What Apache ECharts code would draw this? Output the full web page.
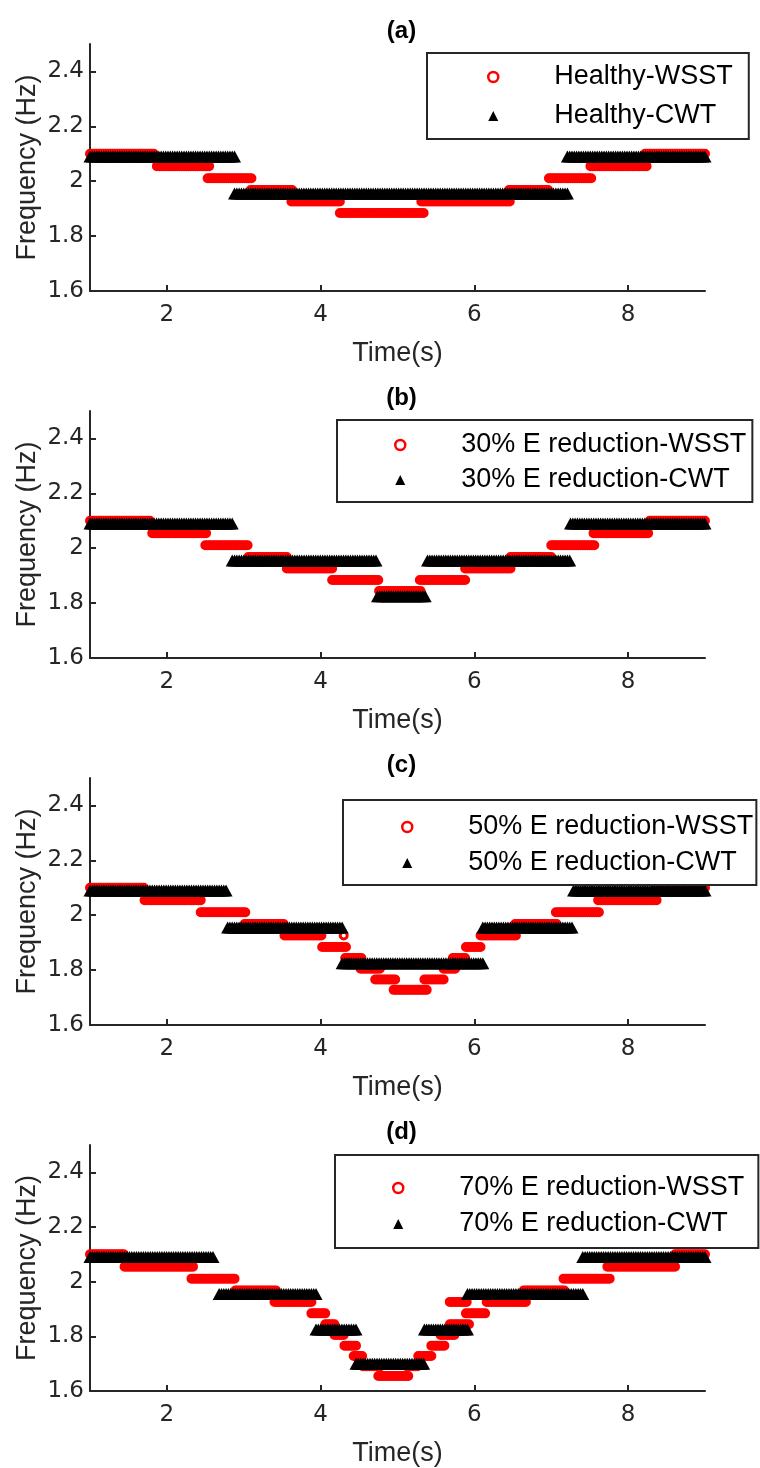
<!DOCTYPE html>
<html><head><meta charset="utf-8">
<script src="https://cdn.jsdelivr.net/npm/echarts@6/dist/echarts.min.js"></script>
<style>html,body{margin:0;padding:0;background:#fff}#c{width:760px;height:1468px}</style>
</head><body><div id="c"></div>
<script>
// ---------------- DATA ----------------
const panelTitles = ['(a)', '(b)', '(c)', '(d)'];
const wsstNames = ['Healthy-WSST', '30% E reduction-WSST', '50% E reduction-WSST', '70% E reduction-WSST'];
const cwtNames  = ['Healthy-CWT', '30% E reduction-CWT', '50% E reduction-CWT', '70% E reduction-CWT'];
const xTicks = [2, 4, 6, 8];
const yTicks = [1.6, 1.8, 2, 2.2, 2.4];
const sampleStep = 0.03; // time spacing of the plotted samples (s)

// runs of constant frequency: [tStart, tEnd, frequency]
const wsstA = [[1.00,1.83,2.100],[1.87,2.55,2.055],[2.53,3.10,2.011],[3.09,3.63,1.968],[3.62,4.25,1.926],[4.25,5.34,1.884],
  [5.31,6.46,1.926],[6.45,6.96,1.968],[6.97,7.52,2.011],[7.51,8.24,2.055],[8.22,9.00,2.100]];
const cwtA  = [[1.00,2.88,2.090],[2.88,7.21,1.955],[7.21,9.00,2.090]];

const wsstB = [[1.00,1.78,2.100],[1.81,2.51,2.055],[2.50,3.05,2.011],[3.06,3.56,1.968],[3.56,4.15,1.926],[4.15,4.75,1.884],
  [4.76,5.30,1.844],[5.29,5.88,1.884],[5.88,6.47,1.926],[6.47,7.00,1.968],[7.00,7.56,2.011],[7.55,8.26,2.055],[8.28,9.00,2.100]];
const cwtB  = [[1.00,2.85,2.090],[2.85,4.72,1.955],[4.74,5.36,1.825],[5.39,7.24,1.955],[7.25,9.00,2.090]];

const wsstC = [[1.00,1.70,2.100],[1.71,2.44,2.055],[2.44,3.02,2.011],[3.01,3.52,1.968],[3.53,4.01,1.926],[4.30,4.30,1.926],
  [4.02,4.33,1.884],[4.32,4.53,1.844],[4.52,4.77,1.805],[4.71,4.97,1.766],[4.95,5.38,1.728],[5.35,5.60,1.766],
  [5.60,5.75,1.805],[5.72,5.88,1.844],[5.89,6.08,1.884],[6.08,6.54,1.926],[6.53,7.07,1.968],[7.06,7.62,2.011],
  [7.61,8.37,2.055],[8.37,9.00,2.100]];
const cwtC  = [[1.00,2.77,2.090],[2.79,4.28,1.955],[4.28,6.11,1.825],[6.11,7.27,1.955],[7.29,9.00,2.090]];

const wsstD = [[1.00,1.44,2.100],[1.45,2.34,2.055],[2.32,2.88,2.011],[2.89,3.42,1.968],[3.40,3.88,1.926],[3.88,4.06,1.884],
  [4.06,4.18,1.844],[4.18,4.30,1.805],[4.31,4.46,1.766],[4.43,4.54,1.728],[4.55,4.78,1.691],[4.75,5.14,1.655],
  [5.12,5.26,1.691],[5.27,5.44,1.728],[5.44,5.61,1.766],[5.56,5.74,1.805],[5.68,5.93,1.844],[5.68,5.90,1.926],
  [5.89,6.14,1.884],[6.16,6.67,1.926],[6.64,7.17,1.968],[7.16,7.76,2.011],[7.73,8.61,2.055],[8.61,9.00,2.100]];
const cwtD  = [[1.00,2.60,2.090],[2.68,3.94,1.955],[3.94,4.46,1.825],[4.46,5.34,1.700],[5.35,5.91,1.825],[5.91,7.41,1.955],[7.41,9.00,2.090]];

const wsstRuns = [wsstA, wsstB, wsstC, wsstD];
const cwtRuns  = [cwtA, cwtB, cwtC, cwtD];

// ---------------- LAYOUT ----------------
const FONT = 'Liberation Sans, Arial, Helvetica, sans-serif';
const TICKFONT = 'DejaVu Sans, sans-serif';
const AX = '#262626';
const gridTops = [44, 411, 778, 1145];
const gridLeft = 90, gridWidth = 615, gridHeight = 247;
const legendLayout = [
  {left: 427, top: 53,   gap: 11, pad: [10, 16, 9, 60]},
  {left: 337, top: 420,  gap: 7,  pad: [11, 6, 8, 57]},
  {left: 343, top: 800,  gap: 8,  pad: [13, 3, 8, 58]},
  {left: 335, top: 1155, gap: 8,  pad: [19, 14, 10, 57]}
];

function samples(runs) {
  const pts = [];
  runs.forEach(function (r) {
    const n = Math.max(0, Math.round((r[1] - r[0]) / sampleStep));
    for (let i = 0; i <= n; i++) {
      const t = n === 0 ? r[0] : r[0] + (r[1] - r[0]) * i / n;
      pts.push([t, r[2]]);
    }
  });
  return pts;
}

const grid = [], xAxis = [], yAxis = [], series = [], title = [], legend = [];
for (let i = 0; i < 4; i++) {
  grid.push({left: gridLeft, top: gridTops[i], width: gridWidth, height: gridHeight});
  title.push({
    text: panelTitles[i], left: gridLeft + gridWidth / 2 - 1, top: gridTops[i] - 30, textAlign: 'center',
    textStyle: {fontFamily: FONT, fontWeight: 'bold', fontSize: 24, color: '#000'}
  });
  xAxis.push({
    type: 'value', gridIndex: i, min: 1, max: 9,
    name: 'Time(s)', nameLocation: 'middle', nameGap: 49, nameMoveOverlap: false,
    nameTextStyle: {fontFamily: FONT, fontSize: 27, color: AX},
    axisLine: {show: true, onZero: false, lineStyle: {color: AX, width: 2}},
    axisTick: {show: true, inside: true, length: 6, lineStyle: {color: AX, width: 2}, customValues: xTicks},
    axisLabel: {fontFamily: TICKFONT, fontSize: 23, color: AX, margin: 13, customValues: xTicks},
    splitLine: {show: false}
  });
  yAxis.push({
    type: 'value', gridIndex: i, min: 1.6, max: 2.5,
    name: 'Frequency (Hz)', nameLocation: 'middle', nameGap: 49, nameMoveOverlap: false,
    nameTextStyle: {fontFamily: FONT, fontSize: 27, color: AX},
    axisLine: {show: true, onZero: false, lineStyle: {color: AX, width: 2}},
    axisTick: {show: true, inside: true, length: 6, lineStyle: {color: AX, width: 2}, customValues: yTicks},
    axisLabel: {fontFamily: TICKFONT, fontSize: 23, color: AX, margin: 6, customValues: yTicks},
    splitLine: {show: false}
  });
  series.push({
    type: 'scatter', name: wsstNames[i], xAxisIndex: i, yAxisIndex: i, clip: false,
    symbol: 'circle', symbolSize: 7,
    itemStyle: {color: 'rgba(0,0,0,0)', borderColor: '#ff0000', borderWidth: 3, opacity: 1},
    emphasis: {disabled: true}, silent: true,
    data: samples(wsstRuns[i])
  });
  series.push({
    type: 'scatter', name: cwtNames[i], xAxisIndex: i, yAxisIndex: i, clip: false,
    symbol: 'triangle', symbolSize: [13, 12],
    itemStyle: {color: '#000000', opacity: 1},
    emphasis: {disabled: true}, silent: true,
    data: samples(cwtRuns[i])
  });
  const L = legendLayout[i];
  legend.push({
    data: [
      {name: wsstNames[i], icon: 'circle', itemStyle: {color: 'rgba(0,0,0,0)', borderColor: '#ff0000', borderWidth: 2.5}},
      {name: cwtNames[i], icon: 'triangle', itemStyle: {color: '#000', borderWidth: 0}}
    ],
    orient: 'vertical',
    left: L.left, top: L.top, itemGap: L.gap, padding: L.pad,
    itemWidth: 10, itemHeight: 10,
    backgroundColor: '#fff', borderColor: AX, borderWidth: 2, borderRadius: 0,
    selectedMode: false,
    textStyle: {fontFamily: FONT, fontSize: 27, color: '#000', lineHeight: 28, padding: [0, 0, 0, 51]}
  });
}

const chart = echarts.init(document.getElementById('c'), null, {renderer: 'canvas'});
chart.setOption({animation: false, backgroundColor: '#fff', title, grid, xAxis, yAxis, legend, series});
</script>
</body></html>
